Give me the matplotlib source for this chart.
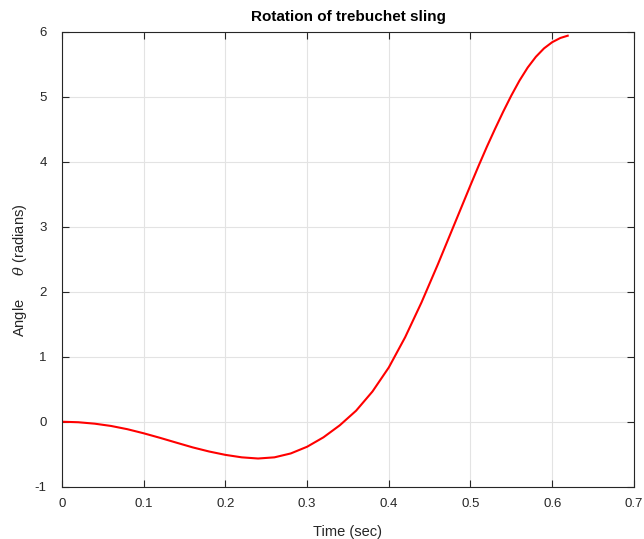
import matplotlib.pyplot as plt

plt.rcParams['font.family'] = ['Liberation Sans', 'DejaVu Sans']
plt.rcParams['mathtext.fontset'] = 'dejavuserif'

# time (s) and sling angle (rad)
t = [0.00, 0.02, 0.04, 0.06, 0.08, 0.10, 0.12, 0.14, 0.16, 0.18, 0.20, 0.22,
     0.24, 0.26, 0.28, 0.30, 0.32, 0.34, 0.36, 0.38, 0.40, 0.42, 0.44, 0.46,
     0.48, 0.50, 0.51, 0.52, 0.53, 0.54, 0.55, 0.56, 0.57, 0.58, 0.59, 0.60,
     0.61, 0.619]
theta = [0.000, -0.008, -0.030, -0.065, -0.115, -0.178, -0.248, -0.322, -0.395,
         -0.458, -0.510, -0.548, -0.566, -0.548, -0.488, -0.385, -0.240, -0.055,
         0.170, 0.465, 0.835, 1.300, 1.835, 2.420, 3.030, 3.640, 3.940, 4.230,
         4.505, 4.770, 5.020, 5.250, 5.450, 5.615, 5.745, 5.840, 5.905, 5.940]

xticks = [0, 0.1, 0.2, 0.3, 0.4, 0.5, 0.6, 0.7]
xticklabels = ['0', '0.1', '0.2', '0.3', '0.4', '0.5', '0.6', '0.7']
yticks = [-1, 0, 1, 2, 3, 4, 5, 6]

fig = plt.figure(figsize=(6.44, 5.39), dpi=100)
ax = fig.add_axes([0.0963, 0.097, 0.888, 0.844])

ax.plot(t, theta, color='red', linewidth=1.5)

ax.set_xlim(0, 0.7)
ax.set_ylim(-1, 6)
ax.set_xticks(xticks)
ax.set_xticklabels(xticklabels)
ax.set_yticks(yticks)
ax.set_yticklabels([str(v) for v in yticks])

ax.grid(True, color='#e3e3e3', linewidth=0.8)
ax.set_axisbelow(True)
ax.tick_params(direction='in', length=5, width=0.8, top=True, right=True,
               labelsize=9.5, colors='#262626')
ax.tick_params(axis='x', pad=8)
ax.tick_params(axis='y', pad=11)
for s in ax.spines.values():
    s.set_color('#262626')
    s.set_linewidth(0.8)

ax.set_title('Rotation of trebuchet sling', fontsize=11, fontweight='bold', pad=8)
ax.set_xlabel('Time (sec)', fontsize=10.5, color='#262626', labelpad=11)
ax.set_ylabel(r'Angle      $\theta$ (radians)', fontsize=10.5, color='#262626')
ax.yaxis.set_label_coords(-0.057, 0.476)

fig.savefig('out.png', dpi=100)
